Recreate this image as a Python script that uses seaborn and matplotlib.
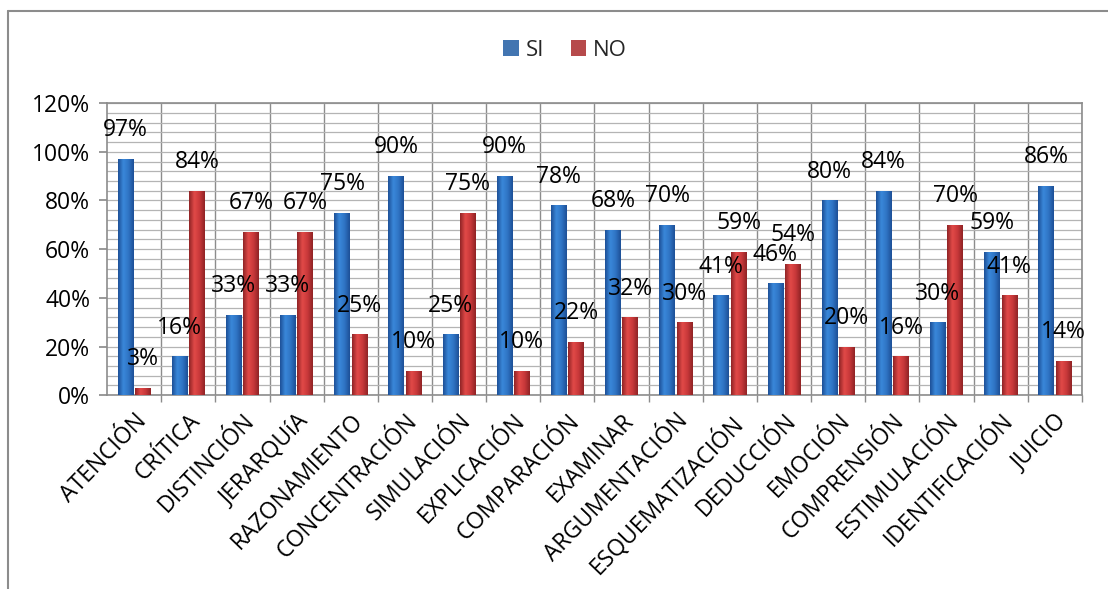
import numpy as np
import pandas as pd
import seaborn as sns
import matplotlib.pyplot as plt
from matplotlib.ticker import MultipleLocator, FuncFormatter
from matplotlib.lines import Line2D
from matplotlib.colors import LinearSegmentedColormap

categorias = ['ATENCIÓN', 'CRÍTICA', 'DISTINCIÓN', 'JERARQUíA', 'RAZONAMIENTO',
              'CONCENTRACIÓN', 'SIMULACIÓN', 'EXPLICACIÓN', 'COMPARACIÓN', 'EXAMINAR',
              'ARGUMENTACIÓN', 'ESQUEMATIZACIÓN', 'DEDUCCIÓN', 'EMOCIÓN', 'COMPRENSIÓN',
              'ESTIMULACIÓN', 'IDENTIFICACIÓN', 'JUICIO']
si = [97, 16, 33, 33, 75, 90, 25, 90, 78, 68, 70, 41, 46, 80, 84, 30, 59, 86]
no = [3, 84, 67, 67, 25, 10, 75, 10, 22, 32, 30, 59, 54, 20, 16, 70, 41, 14]
series = ['SI', 'NO']
colores = {'SI': '#2f74c4', 'NO': '#c8383a'}
# sombreado tipo cilindro: borde oscuro, centro claro
degradados = {
    'SI': LinearSegmentedColormap.from_list('si', ['#1d4f96', '#3a88da', '#2f74c4', '#1d4f96']),
    'NO': LinearSegmentedColormap.from_list('no', ['#8f2325', '#e24a48', '#c8383a', '#8f2325']),
}

df = pd.DataFrame({
    'categoria': categorias * 2,
    'serie': ['SI'] * len(si) + ['NO'] * len(no),
    'valor': si + no,
})

sns.set_theme(style='white')
plt.rcParams['font.family'] = ['Open Sans', 'DejaVu Sans']

fig = plt.figure(figsize=(11.08, 5.89), dpi=100)
ax = fig.add_axes([0.0966, 0.329, 0.8799, 0.496])

sns.barplot(data=df, x='categoria', y='valor', hue='serie', hue_order=series,
            palette=colores, width=0.64, gap=0.1, ax=ax, zorder=3, linewidth=0)

grad = np.linspace(0, 1, 64).reshape(1, -1)
for cont, s in zip(ax.containers, series):
    for patch in cont:
        x0, w, h = patch.get_x(), patch.get_width(), patch.get_height()
        im = ax.imshow(grad, cmap=degradados[s], aspect='auto', zorder=3.5,
                       extent=[x0, x0 + w, 0, h], interpolation='bicubic')
        im.set_clip_path(patch)
    ax.bar_label(cont, labels=[f'{int(v)}%' for v in cont.datavalues],
                 padding=12, fontsize=16.5, color='black', zorder=5)

ax.set_ylim(0, 120)
ax.set_xlim(-0.5, len(categorias) - 0.5)
ax.yaxis.set_major_locator(MultipleLocator(20))
ax.yaxis.set_minor_locator(MultipleLocator(4))
ax.yaxis.set_major_formatter(FuncFormatter(lambda v, p: f'{int(v)}%'))
ax.set_xticks(np.arange(len(categorias)) + 0.5, minor=True)

ax.grid(which='both', axis='y', color='#b4b4b4', linewidth=0.9, zorder=0)
ax.grid(which='minor', axis='x', color='#8c8c8c', linewidth=1.0, zorder=0)
ax.set_axisbelow(True)

for side in ['left', 'bottom', 'right', 'top']:
    ax.spines[side].set_visible(True)
    ax.spines[side].set_color('#8c8c8c')
    ax.spines[side].set_linewidth(1.2)

ax.tick_params(axis='y', which='major', left=True, length=6, color='#8c8c8c',
               labelsize=16.5, labelcolor='black', pad=6)
ax.tick_params(axis='y', which='minor', left=False)
ax.tick_params(axis='x', which='major', bottom=False, labelsize=16.5, labelcolor='black', pad=4)
ax.tick_params(axis='x', which='minor', bottom=True, length=5, color='#8c8c8c')
plt.setp(ax.get_xticklabels(), rotation=46, ha='right', rotation_mode='anchor')
ax.set_xlabel('')
ax.set_ylabel('')

sns.move_legend(ax, 'center', bbox_to_anchor=(0.51, 0.915), bbox_transform=fig.transFigure,
                ncol=2, frameon=False, title=None, fontsize=16,
                handlelength=0.7, handleheight=0.7, handletextpad=0.3, columnspacing=1.2)

# marco exterior
fig.add_artist(Line2D([8 / 1108, 1], [1 - 11 / 589, 1 - 11 / 589], color='#8c8c8c', lw=1.5))
fig.add_artist(Line2D([8 / 1108, 8 / 1108], [0, 1 - 11 / 589], color='#8c8c8c', lw=1.5))

fig.savefig('out.png', dpi=100)
